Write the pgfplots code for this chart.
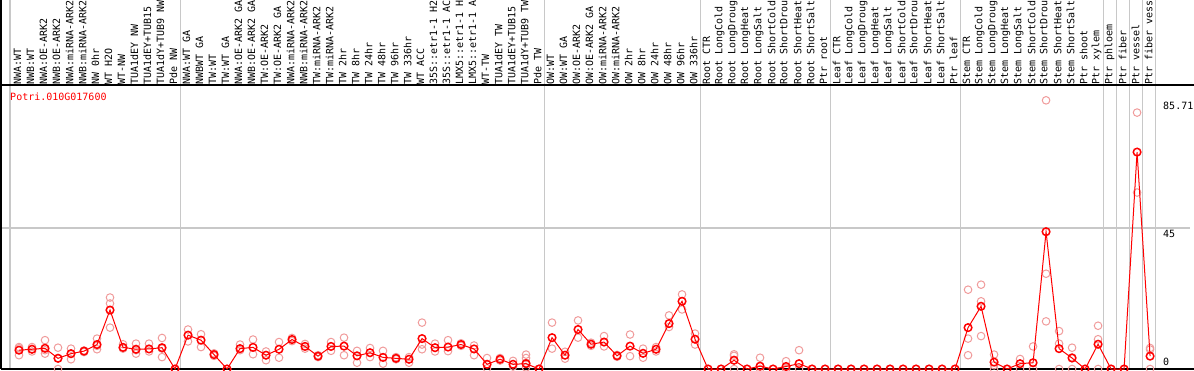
\documentclass[border=0pt]{standalone}
\usepackage{pgfplots}
\pgfplotsset{compat=1.18}
\usepackage{pgfplotstable}
\usepackage{fontspec}
\setmonofont{DejaVu Sans Mono}
\definecolor{rep}{RGB}{240,155,155}
\definecolor{sep}{RGB}{200,200,200}
\definecolor{mred}{RGB}{255,0,0}

\pgfplotstableread{
x y
0 6.0
1 6.3
2 6.6
3 3.4
4 4.9
5 5.7
6 7.8
7 18.8
8 6.9
9 6.3
10 6.4
11 6.8
12 0
13 10.8
14 9.2
15 4.6
16 0
17 6.5
18 6.9
19 4.4
20 6.3
21 9.4
22 7.2
23 4.1
24 7.2
25 7.3
26 4.2
27 5.2
28 3.7
29 3.4
30 3.1
31 9.7
32 6.8
33 7.0
34 7.8
35 6.4
36 1.5
37 3.1
38 1.5
39 1.7
40 0
41 10.0
42 4.4
43 12.6
44 7.9
45 8.6
46 4.2
47 7.3
48 5.0
49 6.3
50 14.5
51 21.6
52 9.5
53 0
54 0
55 2.8
56 0
57 0.9
58 0
59 0.8
60 1.7
61 0
62 0
63 0
64 0
65 0
66 0
67 0
68 0
69 0
70 0
71 0
72 0
73 13.2
74 20.0
75 2.2
76 0
77 1.7
78 2.0
79 43.8
80 6.5
81 3.5
82 0
83 7.9
84 0
85 0
86 69.2
87 4.1
}\means

\pgfplotstableread{
x y
0 7.0
0 6.6
0 4.4
1 7.0
1 5.6
1 6.3
2 9.2
2 4.9
2 6.0
3 6.8
3 3.5
3 0
4 6.5
4 3.1
4 4.9
5 5.9
5 5.4
6 9.7
6 6.3
6 7.4
7 22.8
7 20.9
7 13.2
8 7.9
8 6.5
8 6.7
9 8.1
9 4.9
9 6.0
10 8.1
10 5.6
11 9.9
11 3.8
11 6.5
12 0
13 12.6
13 8.8
14 11.1
14 7.0
15 5.0
15 4.2
16 0
17 7.8
17 6.0
18 9.4
18 4.7
19 5.6
19 2.8
20 8.6
20 3.6
21 9.9
21 8.9
22 8.0
22 6.5
23 4.4
23 3.8
24 8.6
24 5.8
25 10.0
25 4.4
26 5.8
26 2.0
27 6.7
27 3.8
28 5.8
28 1.7
29 3.8
29 3.1
30 3.8
30 2.0
31 14.8
31 6.3
31 7.8
32 8.1
32 5.6
33 9.2
33 5.7
34 8.2
34 7.4
35 7.5
35 4.4
36 3.5
36 0.2
37 3.5
37 2.7
38 2.6
38 0.8
39 4.6
39 3.5
39 2.0
39 0.5
40 0
41 14.8
41 6.5
42 5.5
42 3.3
43 15.5
43 10.0
44 8.4
44 7.4
45 10.5
45 7.2
46 4.5
46 3.9
47 11.0
47 4.1
48 6.5
48 3.6
49 7.0
49 5.6
50 17.1
50 13.4
51 23.8
51 19.0
52 11.3
52 7.8
55 4.7
55 4.2
55 0
57 3.6
57 0
59 2.5
59 0
60 6.0
60 0
73 25.3
73 9.7
73 4.4
74 26.9
74 21.6
74 10.5
75 4.6
75 1.2
75 0
77 3.2
77 0
78 7.2
78 0
79 85.71
79 30.4
79 15.2
80 12.1
80 8.1
80 0
81 6.8
81 3.7
81 0
83 13.8
83 9.5
83 0
86 81.8
86 56.3
87 6.7
87 6.2
87 0
}\reps

\begin{document}
\begin{tikzpicture}[x=1bp,y=1bp]
\begin{axis}[
  at={(1bp,1bp)}, anchor=south west,
  scale only axis, width=1193bp, height=284bp,
  xmin=-1.385, xmax=90.38, ymin=0, ymax=90.6,
  axis line style={draw=none},
  clip mode=individual,
  major tick length=0pt,
  xtick={0,...,87},
  xticklabel pos=upper,
  xticklabels={NWA:WT,NWB:WT,NWA:OE-ARK2,NWB:OE-ARK2,NWA:miRNA-ARK2,NWB:miRNA-ARK2,NW 0hr,WT H2O,WT-NW,TUA1dEY NW,TUA1dEY+TUB15 NW,TUA1dY+TUB9 NW,Pde NW,
    NWA:WT GA,NWBWT GA,TW:WT,TW:WT GA,NWA:OE-ARK2 GA,NWB:OE-ARK2 GA,TW:OE-ARK2,TW:OE-ARK2 GA,NWA:miRNA-ARK2 GA,NWB:miRNA-ARK2 GA,TW:miRNA-ARK2,TW:miRNA-ARK2 GA,TW 2hr,TW 8hr,TW 24hr,TW 48hr,TW 96hr,TW 336hr,WT ACC,35S::etr1-1 H2O,35S::etr1-1 ACC,LMX5::etr1-1 H2O,LMX5::etr1-1 ACC,WT-TW,TUA1dEY TW,TUA1dEY+TUB15 TW,TUA1dY+TUB9 TW,Pde TW,
    OW:WT,OW:WT GA,OW:OE-ARK2,OW:OE-ARK2 GA,OW:miRNA-ARK2,OW:miRNA-ARK2 GA,OW 2hr,OW 8hr,OW 24hr,OW 48hr,OW 96hr,OW 336hr,
    Root CTR,Root LongCold,Root LongDrought,Root LongHeat,Root LongSalt,Root ShortCold,Root ShortDrought,Root ShortHeat,Root ShortSalt,Ptr root,
    Leaf CTR,Leaf LongCold,Leaf LongDrought,Leaf LongHeat,Leaf LongSalt,Leaf ShortCold,Leaf ShortDrought,Leaf ShortHeat,Leaf ShortSalt,Ptr leaf,
    Stem CTR,Stem LongCold,Stem LongDrought,Stem LongHeat,Stem LongSalt,Stem ShortCold,Stem ShortDrought,Stem ShortHeat,Stem ShortSalt,Ptr shoot,Ptr xylem,Ptr phloem,Ptr fiber,Ptr vessel,Ptr fiber vessel},
  xticklabel style={rotate=90, anchor=west, inner sep=0pt, xshift=0bp, yshift=1.5bp, font=\ttfamily\fontsize{10bp}{12bp}\selectfont},
  ytick={45,85.71},
  yticklabels={45,85.71},
  yticklabel pos=right,
  yticklabel style={anchor=north west, inner sep=0pt, xshift=-31bp, yshift=-2bp, font=\ttfamily\fontsize{10bp}{12bp}\selectfont},
  extra y ticks={0},
  extra y tick labels={0},
  extra y tick style={yticklabel style={anchor=south west, yshift=5bp}},
]
% separators
\pgfplotsinvokeforeach{-0.69,12.44,40.44,52.44,62.44,72.44,83.44,84.44,85.44,86.44,87.44}{
  \draw[sep, line width=1.2bp] (axis cs:#1,0) -- (axis cs:#1,118);
}
\draw[sep, line width=1.2bp] (axis cs:-1.385,45) -- (axis cs:90.1,45);
% frame
\draw[black, line width=1.3bp] (rel axis cs:0,0) -- (rel axis cs:1,0);
\draw[black, line width=1.3bp] (rel axis cs:0,1) -- (rel axis cs:1,1);
\draw[black, line width=1.3bp] (rel axis cs:0,0) -- (rel axis cs:0,1.31);
% gene name
\node[mred, anchor=west, inner sep=0pt, font=\ttfamily\fontsize{10bp}{12bp}\selectfont] at (axis cs:-0.69,86.8) {Potri.010G017600};
% replicates
\addplot[only marks, mark=o, mark size=3.8bp, color=rep, mark options={line width=1bp}] table[x=x,y=y] {\reps};
% means
\addplot[mred, line width=1bp, mark=o, mark size=3.8bp, mark options={line width=1.5bp}] table[x=x,y=y] {\means};
\end{axis}
\pgfresetboundingbox
\useasboundingbox (0,0) rectangle (1194,370);
\end{tikzpicture}
\end{document}
